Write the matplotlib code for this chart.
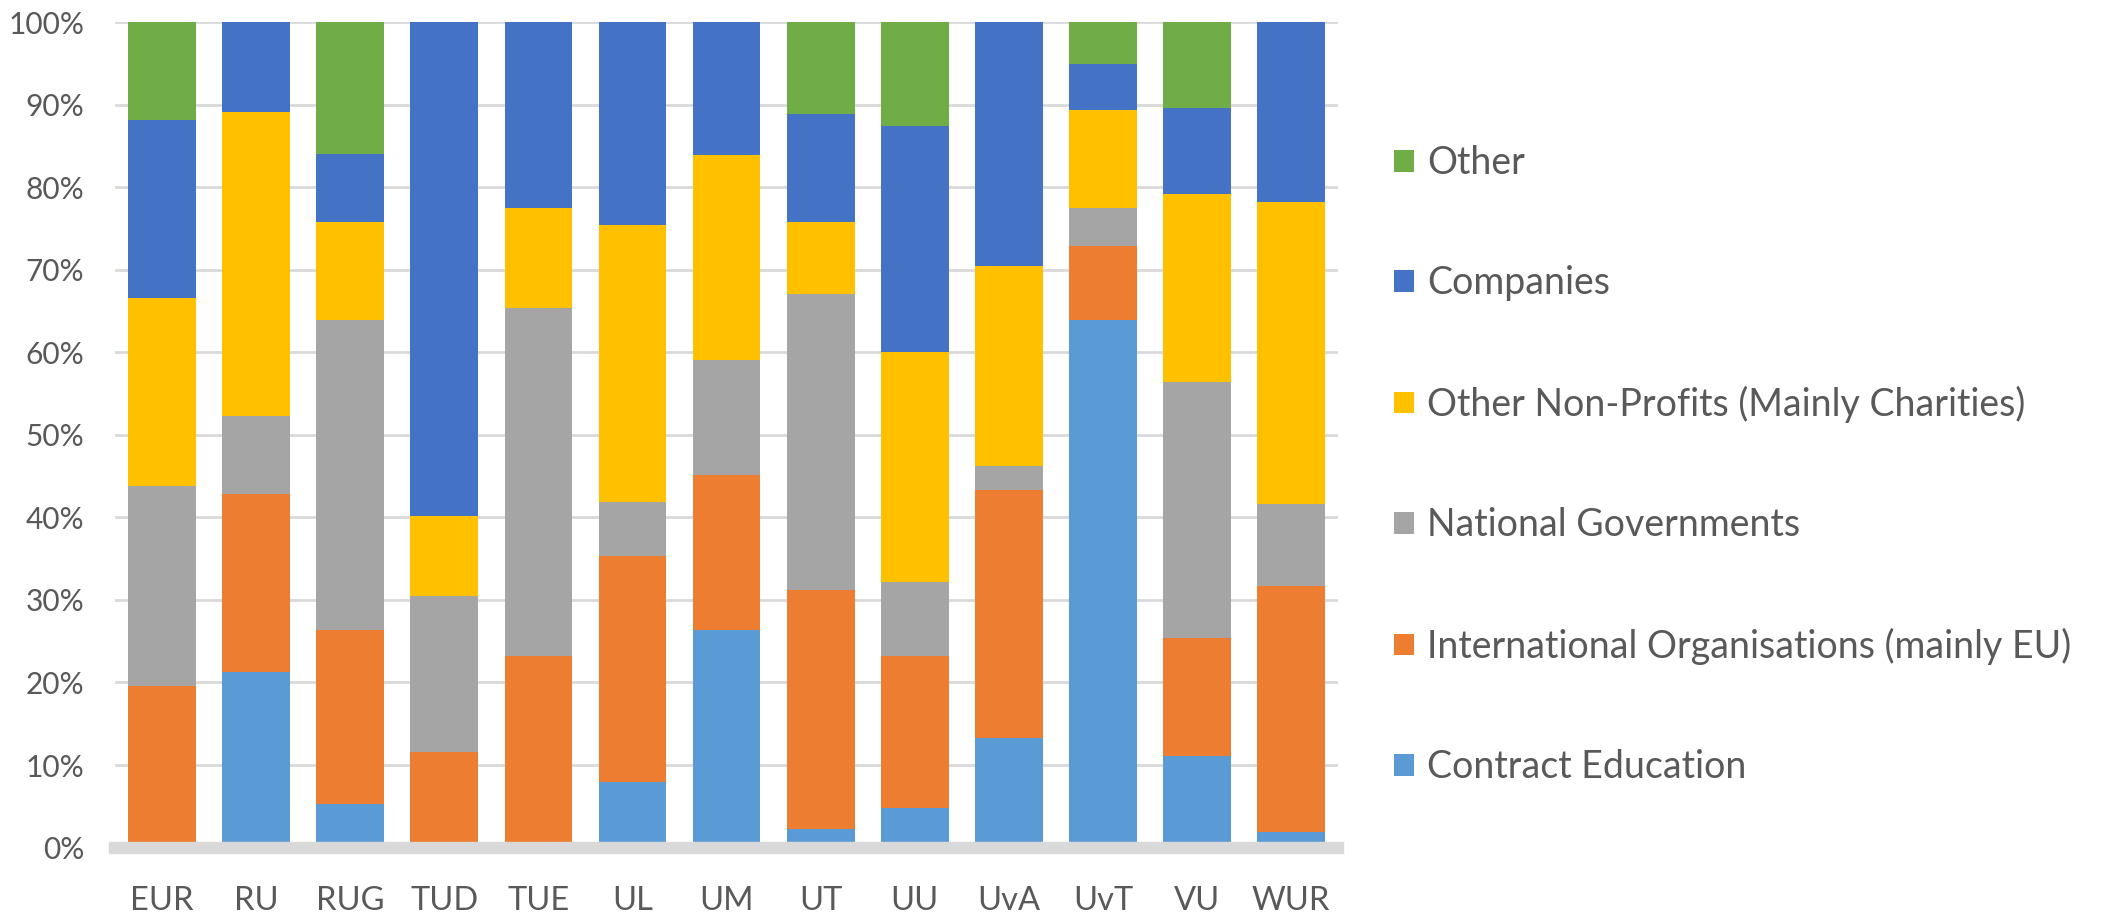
import matplotlib
matplotlib.use("Agg")
import matplotlib.pyplot as plt
from matplotlib.patches import Patch
import numpy as np

plt.rcParams['font.family'] = ['Lato', 'DejaVu Sans']

categories = ["EUR", "RU", "RUG", "TUD", "TUE", "UL", "UM", "UT", "UU", "UvA", "UvT", "VU", "WUR"]

contract_education = [0.0, 21.3, 5.3, 0.0, 0.0, 7.9, 26.4, 2.2, 4.8, 13.3, 63.9, 11.1, 1.9]
international_orgs = [19.6, 21.6, 21.1, 11.6, 23.2, 27.4, 18.7, 29.0, 18.4, 30.0, 9.0, 14.3, 29.8]
national_govts = [24.2, 9.4, 37.5, 18.9, 42.2, 6.6, 14.0, 35.9, 9.0, 2.9, 4.6, 31.0, 9.9]
other_nonprofits = [22.8, 36.9, 11.9, 9.7, 12.1, 33.5, 24.8, 8.7, 27.9, 24.3, 11.9, 22.8, 36.6]
companies = [21.6, 10.8, 8.3, 59.8, 22.5, 24.6, 16.1, 13.1, 27.4, 29.5, 5.6, 10.4, 21.8]
other = [11.8, 0.0, 15.9, 0.0, 0.0, 0.0, 0.0, 11.1, 12.5, 0.0, 5.0, 10.4, 0.0]

series_names = ["Contract Education", "International Organisations (mainly EU)",
                "National Governments", "Other Non-Profits (Mainly Charities)",
                "Companies", "Other"]
series_values = [contract_education, international_orgs, national_govts,
                 other_nonprofits, companies, other]
colors = ["#5B9BD5", "#ED7D31", "#A5A5A5", "#FFC000", "#4472C4", "#70AD47"]

text_color = "#595959"

fig = plt.figure(figsize=(21.26, 9.21), dpi=100)
ax = fig.add_axes([0.0541, 0.0798, 0.5753, 0.8958])

x = np.arange(len(categories))
data = np.array(series_values, dtype=float)
data = data / data.sum(axis=0)  # normalise to 100 %
bottom = np.zeros(len(categories))
handles = []
for vals, name, col in zip(data, series_names, colors):
    ax.bar(x, vals, width=0.72, bottom=bottom, color=col, label=name, zorder=2, linewidth=0)
    bottom += vals
    handles.append(Patch(facecolor=col, label=name))

ax.set_xlim(-0.5, 12.5)
ax.set_ylim(0, 1)
ax.set_yticks(np.arange(0, 1.01, 0.1))
ax.set_yticklabels([f"{int(round(v*100))}%" for v in np.arange(0, 1.01, 0.1)])
ax.set_xticks(x)
ax.set_xticklabels(categories)
ax.yaxis.grid(True, color="#D9D9D9", linewidth=2.0, zorder=0)
ax.set_axisbelow(True)
for s in ax.spines.values():
    s.set_visible(False)
ax.tick_params(axis='both', length=0, labelcolor=text_color)
ax.tick_params(axis='y', pad=22, labelsize=21.5)
ax.tick_params(axis='x', pad=28, labelsize=23.5)
ax.axhline(0, color="#D9D9D9", linewidth=8.9, zorder=3, clip_on=False)

leg = fig.legend(handles=handles[::-1], loc="center left",
                 bbox_to_anchor=(0.640, 0.495), frameon=False,
                 fontsize=27, labelcolor=text_color,
                 handlelength=0.51, handleheight=0.51, handletextpad=0.36,
                 labelspacing=2.25)

fig.savefig("out.png", dpi=100)
